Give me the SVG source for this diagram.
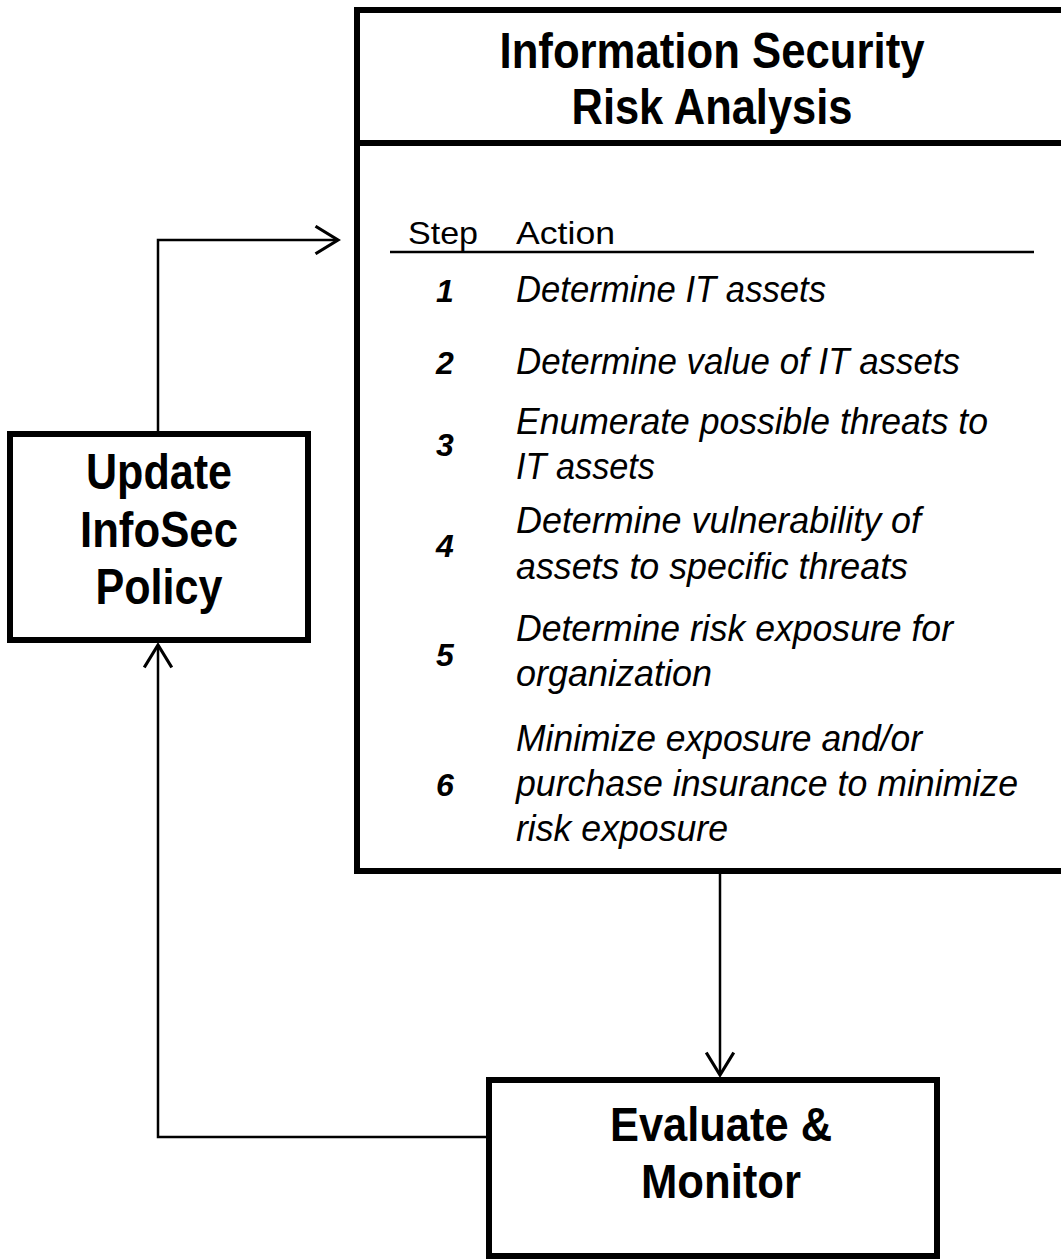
<svg xmlns="http://www.w3.org/2000/svg" width="1061" height="1260" viewBox="0 0 1061 1260">
<style>
.box{fill:#fff;stroke:#000;stroke-width:6}
.conn{fill:none;stroke:#000;stroke-width:2.5}
.big{font-family:"Liberation Sans",Arial,sans-serif;font-weight:bold;fill:#000}
.hd{font-family:"Liberation Sans",Arial,sans-serif;font-size:32px;fill:#000}
.it{font-family:"Liberation Sans",Arial,sans-serif;font-size:36px;font-style:italic;fill:#000}
.num{font-family:"Liberation Sans",Arial,sans-serif;font-size:32px;font-style:italic;font-weight:bold;fill:#000}
</style>
<defs>
<marker id="arr" markerUnits="userSpaceOnUse" markerWidth="30" markerHeight="30" viewBox="-20 -12 24 24" refX="0" refY="0" orient="auto">
<path d="M-18,-11 L0,0 L-18,11" fill="none" stroke="#000" stroke-width="2.5"/>
</marker>
</defs>
<rect width="1061" height="1260" fill="#fff"/>
<g id="connectors">
<path class="conn" d="M158,433 L158,240 L338,240" marker-end="url(#arr)"/>
<path class="conn" d="M720,874 L720,1075" marker-end="url(#arr)"/>
<path class="conn" d="M488,1137 L158,1137 L158,645" marker-end="url(#arr)"/>
</g>
<g id="risk-analysis">
<rect class="box" x="357" y="10" width="800" height="861"/>
<line x1="357" y1="143" x2="1061" y2="143" stroke="#000" stroke-width="6"/>
<text class="big" font-size="50" x="712" y="68" text-anchor="middle" textLength="425" lengthAdjust="spacingAndGlyphs">Information Security</text>
<text class="big" font-size="50" x="712" y="124" text-anchor="middle" textLength="281" lengthAdjust="spacingAndGlyphs">Risk Analysis</text>
<text class="hd" x="408" y="244" textLength="70" lengthAdjust="spacingAndGlyphs">Step</text>
<text class="hd" x="516" y="244" textLength="99" lengthAdjust="spacingAndGlyphs">Action</text>
<line x1="390" y1="252" x2="1034" y2="252" stroke="#000" stroke-width="2.5"/>
<g class="num" text-anchor="middle">
<text x="445" y="302">1</text>
<text x="445" y="374">2</text>
<text x="445" y="456">3</text>
<text x="445" y="557">4</text>
<text x="445" y="666">5</text>
<text x="445" y="796">6</text>
</g>
<g class="it">
<text x="516" y="302" textLength="310" lengthAdjust="spacingAndGlyphs">Determine IT assets</text>
<text x="516" y="374" textLength="444" lengthAdjust="spacingAndGlyphs">Determine value of IT assets</text>
<text x="516" y="434" textLength="472" lengthAdjust="spacingAndGlyphs">Enumerate possible threats to</text>
<text x="516" y="479" textLength="139" lengthAdjust="spacingAndGlyphs">IT assets</text>
<text x="516" y="533" textLength="405" lengthAdjust="spacingAndGlyphs">Determine vulnerability of</text>
<text x="516" y="579" textLength="392" lengthAdjust="spacingAndGlyphs">assets to specific threats</text>
<text x="516" y="641" textLength="437" lengthAdjust="spacingAndGlyphs">Determine risk exposure for</text>
<text x="516" y="686" textLength="196" lengthAdjust="spacingAndGlyphs">organization</text>
<text x="516" y="751" textLength="406" lengthAdjust="spacingAndGlyphs">Minimize exposure and/or</text>
<text x="516" y="796" textLength="502" lengthAdjust="spacingAndGlyphs">purchase insurance to minimize</text>
<text x="516" y="841" textLength="212" lengthAdjust="spacingAndGlyphs">risk exposure</text>
</g>
</g>
<g id="update-policy">
<rect class="box" x="10" y="434" width="298" height="206"/>
<text class="big" font-size="50" x="159" y="489" text-anchor="middle" textLength="146" lengthAdjust="spacingAndGlyphs">Update</text>
<text class="big" font-size="50" x="159" y="547" text-anchor="middle" textLength="158" lengthAdjust="spacingAndGlyphs">InfoSec</text>
<text class="big" font-size="50" x="159" y="604" text-anchor="middle" textLength="127" lengthAdjust="spacingAndGlyphs">Policy</text>
</g>
<g id="evaluate-monitor">
<rect class="box" x="489" y="1080" width="448" height="176"/>
<text class="big" font-size="48" x="721" y="1141" text-anchor="middle" textLength="222" lengthAdjust="spacingAndGlyphs">Evaluate &amp;</text>
<text class="big" font-size="48" x="721" y="1198" text-anchor="middle" textLength="160" lengthAdjust="spacingAndGlyphs">Monitor</text>
</g>
</svg>
